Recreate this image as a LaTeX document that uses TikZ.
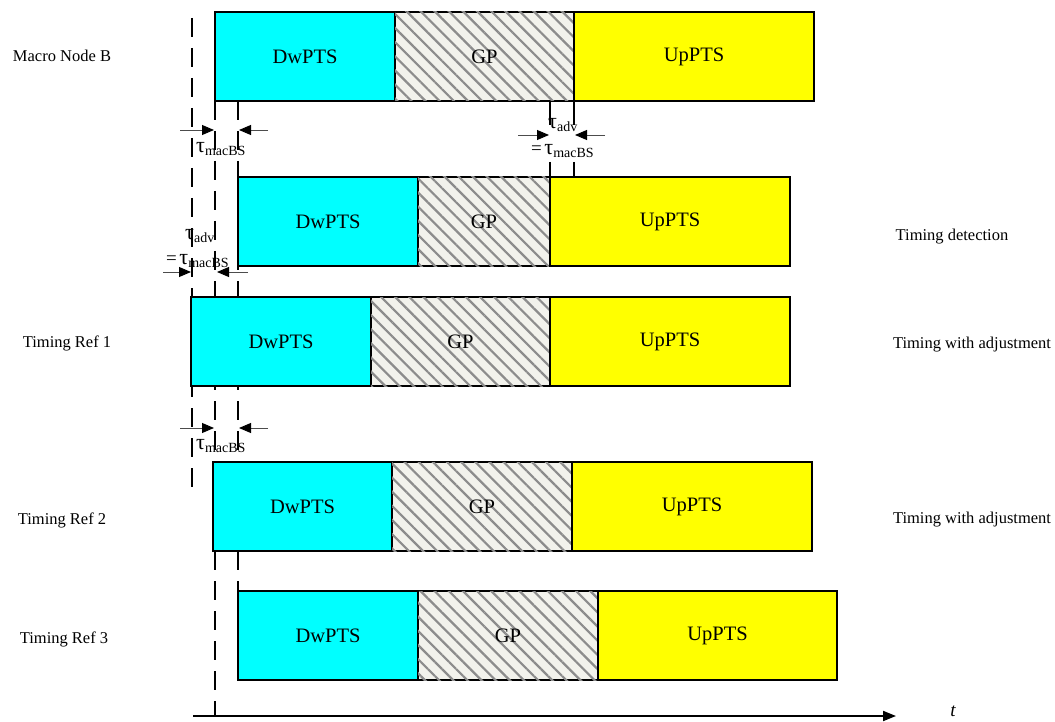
\documentclass[tikz,border=0pt]{standalone}
\usepackage{fontspec}
\setmainfont{Liberation Serif}
\usetikzlibrary{arrows.meta,patterns.meta}
\definecolor{dwc}{RGB}{0,255,255}
\definecolor{upc}{RGB}{255,255,0}
\definecolor{gpbg}{RGB}{242,242,236}
\definecolor{hatchc}{RGB}{140,140,140}
\newcommand{\tausub}[1]{{\fontsize{22}{22}\selectfont τ}\raisebox{-3pt}{\fontsize{14}{14}\selectfont #1}}
\begin{document}
\begin{tikzpicture}[x=1pt,y=-1pt,
  seg/.style={draw=black, line width=1.1pt, inner sep=0pt, outer sep=0pt,
    minimum height=89pt, anchor=north west, font=\fontsize{20.5}{20.5}\selectfont},
  dwbox/.style={seg, fill=dwc},
  upbox/.style={seg, fill=upc},
  gpbox/.style={seg, fill=gpbg,
    postaction={pattern={Lines[angle=-45,distance=10pt,line width=2.2pt]}, pattern color=hatchc}},
  vdash/.style={line width=2.5pt, dash pattern=on 19pt off 11pt},
  vdashb/.style={line width=2.5pt, dash pattern=on 24pt off 37pt},
  dimarr/.style={draw=black!70, line width=0.9pt, -{Triangle[length=12pt,width=10pt,fill=black,color=black]}},
  rowlbl/.style={font=\fontsize{16.5}{16.5}\selectfont, inner sep=0pt},
  taulbl/.style={inner sep=0pt, anchor=base west},
]
\useasboundingbox (0,0) rectangle (1055,722);

% dashed timing lines (behind boxes)
\coordinate (v1t) at (192,18);  \coordinate (v1b) at (192,497);
\coordinate (v2t) at (215,101); \coordinate (v2b) at (215,716);
\coordinate (v3t) at (238,101); \coordinate (v3b) at (238,591);
\coordinate (v4t) at (550,101); \coordinate (v4b) at (550,177);
\coordinate (v5t) at (574,101); \coordinate (v5b) at (574,177);
\draw[vdash] (v1t) -- (v1b);
\draw[vdash] (v2t) -- (v2b);
\draw[vdash] (v3t) -- (v3b);
\draw[vdashb] (v4t) -- (v4b);
\draw[vdashb] (v5t) -- (v5b);

% row 1 : Macro Node B
\node[dwbox, minimum width=180pt] (d1) at (215,12) {DwPTS};
\node[gpbox, minimum width=179pt] (g1) at (d1.north east) {GP};
\node[upbox, minimum width=240pt] (u1) at (g1.north east) {UpPTS};
% row 2 : timing detection
\node[dwbox, minimum width=180pt] (d2) at (238,177) {DwPTS};
\node[gpbox, minimum width=132pt] (g2) at (d2.north east) {GP};
\node[upbox, minimum width=240pt] (u2) at (g2.north east) {UpPTS};
% row 3 : Timing Ref 1
\node[dwbox, minimum width=180pt] (d3) at (191,297) {DwPTS};
\node[gpbox, minimum width=179pt] (g3) at (d3.north east) {GP};
\node[upbox, minimum width=240pt] (u3) at (g3.north east) {UpPTS};
% row 4 : Timing Ref 2
\node[dwbox, minimum width=179pt] (d4) at (213,462) {DwPTS};
\node[gpbox, minimum width=180pt] (g4) at (d4.north east) {GP};
\node[upbox, minimum width=240pt] (u4) at (g4.north east) {UpPTS};
% row 5 : Timing Ref 3
\node[dwbox, minimum width=180pt] (d5) at (238,591) {DwPTS};
\node[gpbox, minimum width=180pt] (g5) at (d5.north east) {GP};
\node[upbox, minimum width=239pt] (u5) at (g5.north east) {UpPTS};

% row labels
\node[rowlbl] (l1) at (62,56) {Macro Node B};
\node[rowlbl] (l3) at (67,343) {Timing Ref 1};
\node[rowlbl] (l4) at (62,520) {Timing Ref 2};
\node[rowlbl] (l5) at (64,639) {Timing Ref 3};
\node[rowlbl] (r2) at (952,237) {Timing detection};
\node[rowlbl] (r3) at (972,345) {Timing with adjustment};
\node[rowlbl] (r4) at (972,520) {Timing with adjustment};

% dimension arrows 1
\coordinate (a1s) at (180,130); \coordinate (a1e) at (214,130);
\coordinate (b1s) at (268,130); \coordinate (b1e) at (239,130);
\draw[dimarr] (a1s) -- (a1e);
\draw[dimarr] (b1s) -- (b1e);
\node[taulbl] (t1) at (196,153) {\tausub{macBS}};
% dimension arrows 2
\coordinate (a2s) at (518,135); \coordinate (a2e) at (549,135);
\coordinate (b2s) at (605,135); \coordinate (b2e) at (575,135);
\draw[dimarr] (a2s) -- (a2e);
\draw[dimarr] (b2s) -- (b2e);
\node[taulbl] (t2a) at (548,129) {\tausub{adv}};
\node[taulbl] (t2b) at (531,155) {{\fontsize{19}{19}\selectfont =} \tausub{macBS}};
% dimension arrows 3
\coordinate (a3s) at (163,272); \coordinate (a3e) at (191,272);
\coordinate (b3s) at (248,272); \coordinate (b3e) at (217,272);
\draw[dimarr] (a3s) -- (a3e);
\draw[dimarr] (b3s) -- (b3e);
\node[taulbl] (t3a) at (185,240) {\tausub{adv}};
\node[taulbl] (t3b) at (166,265) {{\fontsize{19}{19}\selectfont =} \tausub{macBS}};
% dimension arrows 4
\coordinate (a4s) at (180,428); \coordinate (a4e) at (214,428);
\coordinate (b4s) at (268,428); \coordinate (b4e) at (239,428);
\draw[dimarr] (a4s) -- (a4e);
\draw[dimarr] (b4s) -- (b4e);
\node[taulbl] (t4) at (196,449) {\tausub{macBS}};

% time axis
\coordinate (ax0) at (193,716); \coordinate (ax1) at (896,716);
\draw[line width=2pt, -{Triangle[length=13pt,width=10pt]}] (ax0) -- (ax1);
\node[inner sep=0pt, anchor=base, font=\fontsize{19}{19}\selectfont\itshape] (tt) at (953,716) {t};
\end{tikzpicture}
\end{document}
